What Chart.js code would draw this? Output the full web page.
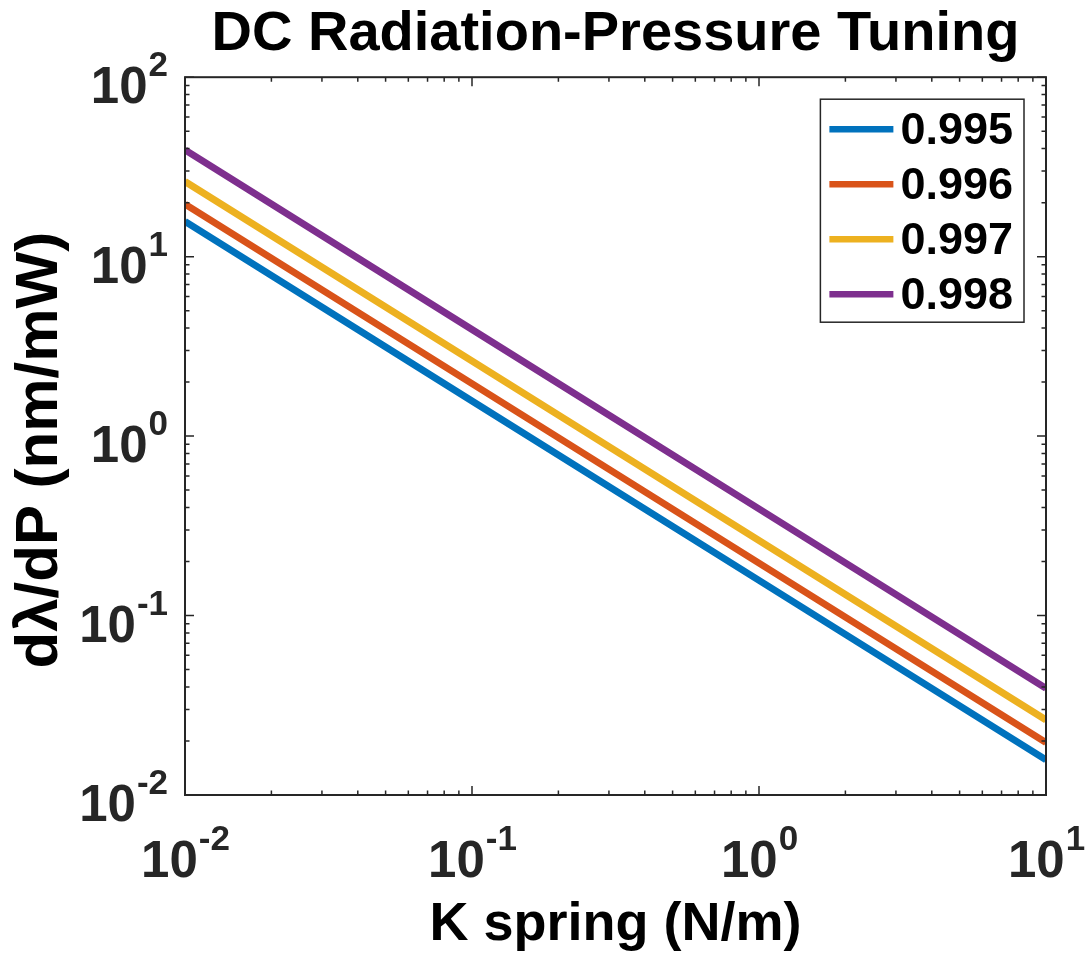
<!DOCTYPE html>
<html>
<head>
<meta charset="utf-8">
<script src="https://cdn.jsdelivr.net/npm/chart.js@4.4.1/dist/chart.umd.min.js"></script>
<style>
  body { margin: 0; background: #fff; }
  canvas { display: block; }
</style>
</head>
<body>
<canvas id="tuningChart" width="1086" height="957"></canvas>
<script>
// spring constant K (N/m)
const kSpring = [0.01, 0.1, 1, 10];

// dlambda/dP (nm/mW) for each reflectivity
const series995 = [15.7, 1.57, 0.157, 0.0157];
const series996 = [19.6, 1.96, 0.196, 0.0196];
const series997 = [26.2, 2.62, 0.262, 0.0262];
const series998 = [39.3, 3.93, 0.393, 0.0393];

const seriesLabels = ['0.995', '0.996', '0.997', '0.998'];
const seriesColors = ['#0072BD', '#D95319', '#EDB120', '#7E2F8E'];

// axis decades and exponent labels
const xTicks = [0.01, 0.1, 1, 10];
const xTickExp = ['-2', '-1', '0', '1'];
const yTicks = [0.01, 0.1, 1, 10, 100];
const yTickExp = ['-2', '-1', '0', '1', '2'];

const FONT = '"Liberation Sans", Arial, Helvetica, sans-serif';
const AXIS_COLOR = '#262626';

function toPoints(vals) {
    return kSpring.map((k, i) => ({ x: k, y: vals[i] }));
}

const allSeries = [series995, series996, series997, series998];

const data = {
    datasets: allSeries.map((vals, i) => ({
        label: seriesLabels[i],
        data: toPoints(vals),
        borderColor: seriesColors[i],
        backgroundColor: seriesColors[i],
        borderWidth: 7,
        pointRadius: 0,
        tension: 0,
    }))
};

// box, inward ticks, tick labels, axis titles and legend, MATLAB style
const matlabAxes = {
    id: 'matlabAxes',
    afterDraw(chart) {
        const ctx = chart.ctx;
        const area = chart.chartArea;
        const xs = chart.scales.x;
        const ys = chart.scales.y;
        ctx.save();

        // inward ticks on all four sides
        ctx.strokeStyle = AXIS_COLOR;
        ctx.lineWidth = 1.5;
        const major = 9, minor = 4.5;
        function decadeTicks(ticks) {
            const out = [];
            ticks.forEach((t, i) => {
                out.push({ v: t, len: major });
                if (i < ticks.length - 1) {
                    for (let m = 2; m <= 9; m++) out.push({ v: t * m, len: minor });
                }
            });
            return out;
        }
        ctx.beginPath();
        decadeTicks(xTicks).forEach(t => {
            const px = xs.getPixelForValue(t.v);
            ctx.moveTo(px, area.bottom); ctx.lineTo(px, area.bottom - t.len);
            ctx.moveTo(px, area.top); ctx.lineTo(px, area.top + t.len);
        });
        decadeTicks(yTicks).forEach(t => {
            const py = ys.getPixelForValue(t.v);
            ctx.moveTo(area.left, py); ctx.lineTo(area.left + t.len, py);
            ctx.moveTo(area.right, py); ctx.lineTo(area.right - t.len, py);
        });
        ctx.stroke();

        // box
        ctx.lineWidth = 2;
        ctx.strokeRect(area.left, area.top, area.right - area.left, area.bottom - area.top);

        // tick labels 10^n
        const baseFont = 'bold 51px ' + FONT;
        const expFont = 'bold 35px ' + FONT;
        ctx.fillStyle = AXIS_COLOR;
        ctx.textBaseline = 'alphabetic';
        ctx.textAlign = 'left';
        function drawPow(exp, baseline) {
            ctx.font = baseFont;
            const w1 = ctx.measureText('10').width;
            ctx.font = expFont;
            const w2 = ctx.measureText(exp).width;
            return { w: w1 + w2, draw(left) {
                ctx.font = baseFont;
                ctx.fillText('10', left, baseline);
                ctx.font = expFont;
                ctx.fillText(exp, left + w1 + 1, baseline - 27);
            } };
        }
        xTicks.forEach((t, i) => {
            const px = xs.getPixelForValue(t);
            const lab = drawPow(xTickExp[i], 877);
            lab.draw(px - lab.w / 2);
        });
        yTicks.forEach((t, i) => {
            const py = ys.getPixelForValue(t);
            const lab = drawPow(yTickExp[i], py + 26);
            lab.draw(area.left - 18 - lab.w);
        });

        // axis titles
        ctx.fillStyle = '#000';
        ctx.textAlign = 'center';
        ctx.textBaseline = 'middle';
        ctx.font = 'bold 54px ' + FONT;
        ctx.fillText('K spring (N/m)', (area.left + area.right) / 2, 925);
        ctx.save();
        ctx.translate(40, (area.top + area.bottom) / 2 + 14);
        ctx.rotate(-Math.PI / 2);
        ctx.font = 'bold 60px ' + FONT;
        ctx.fillText('d\u03BB/dP (nm/mW)', 0, 0);
        ctx.restore();

        // legend box in the top right corner
        ctx.font = 'bold 45px ' + FONT;
        let textW = 0;
        chart.data.datasets.forEach(ds => {
            textW = Math.max(textW, ctx.measureText(ds.label).width);
        });
        const lineLen = 64, padL = 9, gap = 7, padR = 11, rowH = 55;
        const boxW = padL + lineLen + gap + textW + padR;
        const boxH = rowH * chart.data.datasets.length + 3;
        const bx = area.right - 22 - boxW;
        const by = area.top + 22;
        ctx.fillStyle = '#fff';
        ctx.fillRect(bx, by, boxW, boxH);
        ctx.strokeStyle = AXIS_COLOR;
        ctx.lineWidth = 1.5;
        ctx.strokeRect(bx, by, boxW, boxH);
        ctx.textAlign = 'left';
        ctx.textBaseline = 'middle';
        chart.data.datasets.forEach((ds, i) => {
            const cy = by + 30 + i * rowH;
            ctx.strokeStyle = ds.borderColor;
            ctx.lineWidth = 6.5;
            ctx.beginPath();
            ctx.moveTo(bx + padL, cy);
            ctx.lineTo(bx + padL + lineLen, cy);
            ctx.stroke();
            ctx.fillStyle = '#000';
            ctx.fillText(ds.label, bx + padL + lineLen + gap, cy + 2);
        });
        ctx.restore();
    }
};

const config = {
    type: 'line',
    data: data,
    options: {
        responsive: false,
        animation: false,
        layout: {
            padding: { left: 185, right: 40, top: 0, bottom: 162 }
        },
        scales: {
            x: {
                type: 'logarithmic',
                min: 0.01,
                max: 10,
                display: false,
            },
            y: {
                type: 'logarithmic',
                min: 0.01,
                max: 100,
                display: false,
            }
        },
        plugins: {
            legend: { display: false },
            tooltip: { enabled: false },
            title: {
                display: true,
                text: 'DC Radiation-Pressure Tuning',
                color: '#000',
                font: { family: FONT, size: 56, weight: 'bold' },
                padding: { top: 1, bottom: 9 }
            }
        }
    },
    plugins: [matlabAxes]
};

const tuningChart = new Chart(document.getElementById('tuningChart'), config);
</script>
</body>
</html>
